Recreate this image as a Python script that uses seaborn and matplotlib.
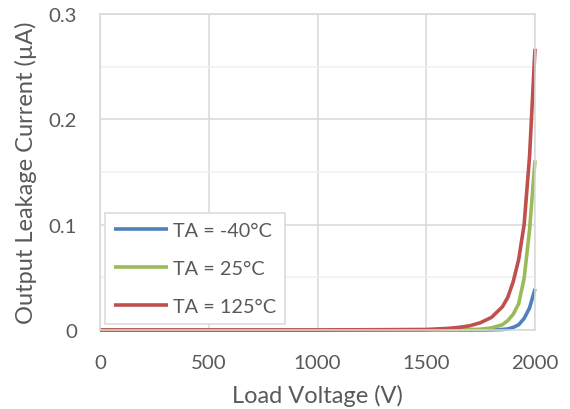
import matplotlib
matplotlib.use("Agg")
import matplotlib.pyplot as plt
import seaborn as sns
import pandas as pd
from matplotlib.ticker import MultipleLocator

voltage = [0, 500, 1000, 1500, 1550, 1600, 1650, 1700, 1750, 1800, 1850, 1875, 1900, 1925, 1950, 1975, 2000]
i_m40 = [0, 0, 0, 0, 0, 0, 0, 0, 0.0001, 0.0002, 0.0005, 0.001, 0.0025, 0.005, 0.011, 0.021, 0.039]
i_25 = [0, 0, 0, 0, 0, 0, 0.0002, 0.0004, 0.0008, 0.002, 0.005, 0.009, 0.015, 0.025, 0.049, 0.095, 0.161]
i_125 = [0, 0, 0, 0.0005, 0.001, 0.0015, 0.0025, 0.004, 0.007, 0.012, 0.022, 0.031, 0.046, 0.067, 0.100, 0.165, 0.267]
labels = ["TA = -40°C", "TA = 25°C", "TA = 125°C"]
colors = ["#4F81BD", "#9BBB59", "#C0504D"]

rows = []
for lab, vals in zip(labels, [i_m40, i_25, i_125]):
    for v, c in zip(voltage, vals):
        rows.append({"Load Voltage (V)": v, "current": c, "series": lab})
df = pd.DataFrame(rows)

sns.set_theme(style="white")
plt.rcParams["font.family"] = ["Lato", "DejaVu Sans"]
txt = "#595959"

fig = plt.figure(figsize=(5.7, 4.1), dpi=100)
ax = fig.add_axes([100/570, 1-331/410, 435/570, 316/410])

sns.lineplot(data=df, x="Load Voltage (V)", y="current", hue="series",
             palette=colors, hue_order=labels, linewidth=2.6, ax=ax,
             estimator=None, sort=False)
for ln in ax.get_lines():
    ln.set_clip_on(False)
    ln.set_solid_capstyle("butt")
    ln.set_solid_joinstyle("round")

ax.set_xlim(0, 2000)
ax.set_ylim(0, 0.3)
ax.xaxis.set_major_locator(MultipleLocator(500))
ax.yaxis.set_minor_locator(MultipleLocator(0.05))
ax.set_yticks([0, 0.1, 0.2, 0.3])
ax.set_yticklabels(["0", "0.1", "0.2", "0.3"])
ax.grid(which="major", color="#D9D9D9", linewidth=1.1)
ax.grid(which="minor", axis="y", color="#F0F0F0", linewidth=1.1)
ax.set_axisbelow(True)
for s in ax.spines.values():
    s.set_color("#D9D9D9")
    s.set_linewidth(1.1)
ax.tick_params(axis="both", which="both", length=0, labelsize=14.7, colors=txt)
ax.tick_params(axis="y", pad=16.5)
ax.tick_params(axis="x", pad=17)
ax.set_xlabel("Load Voltage (V)", fontsize=17, color=txt)
ax.set_ylabel("Output Leakage Current (µA)", fontsize=17, color=txt)
ax.xaxis.set_label_coords(0.5, -54/316)
ax.yaxis.set_label_coords(-63/435, 0.5)

leg = ax.legend(loc="lower left", bbox_to_anchor=(5/435, 6/316), borderaxespad=0,
                fontsize=14.3, handlelength=2.7, handletextpad=0.25, labelspacing=1.05,
                fancybox=False, framealpha=1, edgecolor="#D9D9D9", borderpad=0.45)
leg.get_frame().set_linewidth(1.1)
for t in leg.get_texts():
    t.set_color(txt)
for h in leg.get_lines():
    h.set_linewidth(2.6)

fig.savefig("out.png", dpi=100)
